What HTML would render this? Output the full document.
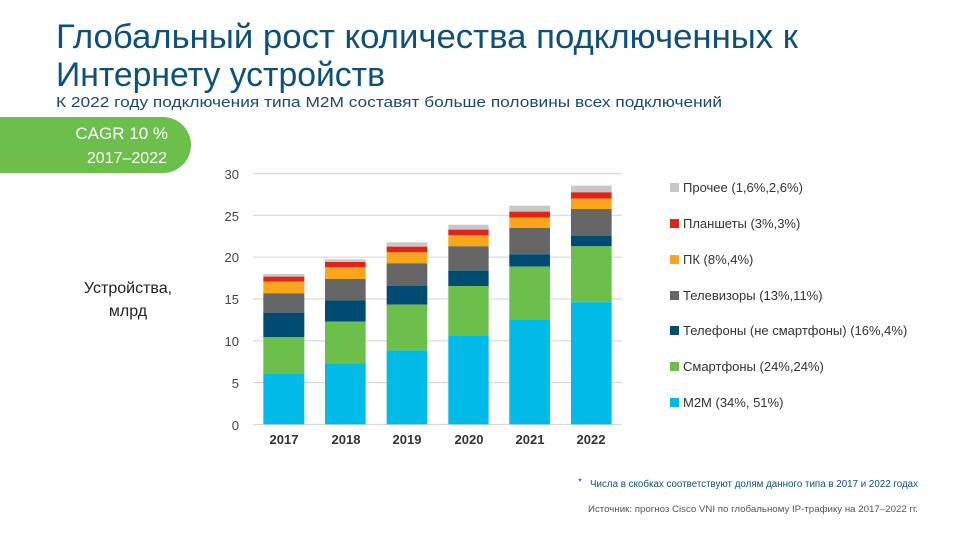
<!DOCTYPE html>
<html><head><meta charset="utf-8"><style>
html,body{margin:0;padding:0;background:#fff;}
svg{display:block;font-family:"Liberation Sans","DejaVu Sans",sans-serif;}
</style></head><body>
<svg width="966" height="543" viewBox="0 0 966 543" xmlns="http://www.w3.org/2000/svg">
<text x="56" y="48" font-size="34" fill="#0d5079" textLength="742" lengthAdjust="spacingAndGlyphs">Глобальный рост количества подключенных к</text>
<text x="56" y="86" font-size="34" fill="#0d5079" textLength="329" lengthAdjust="spacingAndGlyphs">Интернету устройств</text>
<text x="56" y="107" font-size="15" fill="#1d4a68" textLength="666" lengthAdjust="spacingAndGlyphs">К 2022 году подключения типа M2M составят больше половины всех подключений</text>
<path d="M0 117 H163 A28 28 0 0 1 163 173 H0 Z" fill="#6cbf4a"/>
<text x="168" y="139" font-size="17" fill="#fff" text-anchor="end">CAGR 10 %</text>
<text x="167" y="163" font-size="16" fill="#fff" text-anchor="end">2017–2022</text>
<text x="128" y="293" font-size="16" fill="#222" text-anchor="middle">Устройства,</text>
<text x="128" y="316" font-size="16" fill="#222" text-anchor="middle">млрд</text>
<g stroke="#d9d9d9" stroke-width="1.2">
<line x1="253" x2="622" y1="173.5" y2="173.5"/><line x1="253" x2="622" y1="215.3" y2="215.3"/>
<line x1="253" x2="622" y1="257.2" y2="257.2"/><line x1="253" x2="622" y1="299" y2="299"/>
<line x1="253" x2="622" y1="340.8" y2="340.8"/><line x1="253" x2="622" y1="382.6" y2="382.6"/>
<line x1="253" x2="622" y1="424.5" y2="424.5"/>
</g>
<g font-size="13" fill="#444" text-anchor="end">
<text x="239" y="179">30</text><text x="239" y="221">25</text><text x="239" y="262">20</text>
<text x="239" y="304">15</text><text x="239" y="346">10</text><text x="239" y="388">5</text><text x="239" y="430">0</text>
</g>
<g transform="translate(240,170) scale(0.3333)">
<g transform="translate(70,0)">
<rect y="312" width="123" height="8" fill="#c8c8c8"/><rect y="320" width="123" height="15" fill="#e2231a"/>
<rect y="335" width="123" height="35" fill="#f9a61a"/><rect y="370" width="123" height="58" fill="#666"/>
<rect y="428" width="123" height="74" fill="#004b72"/><rect y="502" width="123" height="108" fill="#6cbf4a"/>
<rect y="610" width="123" height="153" fill="#00bbe8"/></g>
<g transform="translate(255,0)">
<rect y="268" width="122" height="8" fill="#c8c8c8"/><rect y="276" width="122" height="16" fill="#e2231a"/>
<rect y="292" width="122" height="35" fill="#f9a61a"/><rect y="327" width="122" height="64" fill="#666"/>
<rect y="391" width="122" height="64" fill="#004b72"/><rect y="455" width="122" height="125" fill="#6cbf4a"/>
<rect y="580" width="122" height="183" fill="#00bbe8"/></g>
<g transform="translate(440,0)">
<rect y="217" width="122" height="13" fill="#c8c8c8"/><rect y="230" width="122" height="17" fill="#e2231a"/>
<rect y="247" width="122" height="33" fill="#f9a61a"/><rect y="280" width="122" height="68" fill="#666"/>
<rect y="348" width="122" height="56" fill="#004b72"/><rect y="404" width="122" height="138" fill="#6cbf4a"/>
<rect y="542" width="122" height="221" fill="#00bbe8"/></g>
<g transform="translate(625,0)">
<rect y="164" width="121" height="15" fill="#c8c8c8"/><rect y="179" width="121" height="17" fill="#e2231a"/>
<rect y="196" width="121" height="33" fill="#f9a61a"/><rect y="229" width="121" height="73" fill="#666"/>
<rect y="302" width="121" height="46" fill="#004b72"/><rect y="348" width="121" height="150" fill="#6cbf4a"/>
<rect y="498" width="121" height="265" fill="#00bbe8"/></g>
<g transform="translate(808,0)">
<rect y="107" width="122" height="18" fill="#c8c8c8"/><rect y="125" width="122" height="18" fill="#e2231a"/>
<rect y="143" width="122" height="31" fill="#f9a61a"/><rect y="174" width="122" height="79" fill="#666"/>
<rect y="253" width="122" height="37" fill="#004b72"/><rect y="290" width="122" height="160" fill="#6cbf4a"/>
<rect y="450" width="122" height="313" fill="#00bbe8"/></g>
<g transform="translate(993,0)">
<rect y="47" width="122" height="20" fill="#c8c8c8"/><rect y="67" width="122" height="19" fill="#e2231a"/>
<rect y="86" width="122" height="31" fill="#f9a61a"/><rect y="117" width="122" height="81" fill="#666"/>
<rect y="198" width="122" height="31" fill="#004b72"/><rect y="229" width="122" height="168" fill="#6cbf4a"/>
<rect y="397" width="122" height="366" fill="#00bbe8"/></g>
</g>
<g font-size="13" font-weight="bold" fill="#333" text-anchor="middle">
<text x="284" y="444">2017</text><text x="346" y="444">2018</text><text x="407" y="444">2019</text>
<text x="469" y="444">2020</text><text x="530" y="444">2021</text><text x="591" y="444">2022</text>
</g>
<g font-size="13" fill="#333">
<rect x="670" y="183" width="9" height="9" fill="#c8c8c8"/><text x="683" y="192">Прочее (1,6%,2,6%)</text>
<rect x="670" y="219" width="9" height="9" fill="#e2231a"/><text x="683" y="228">Планшеты (3%,3%)</text>
<rect x="670" y="255" width="9" height="9" fill="#f9a61a"/><text x="683" y="264">ПК (8%,4%)</text>
<rect x="670" y="291" width="9" height="9" fill="#666"/><text x="683" y="300">Телевизоры (13%,11%)</text>
<rect x="670" y="326" width="9" height="9" fill="#004b72"/><text x="683" y="335">Телефоны (не смартфоны) (16%,4%)</text>
<rect x="670" y="362" width="9" height="9" fill="#6cbf4a"/><text x="683" y="371">Смартфоны (24%,24%)</text>
<rect x="670" y="398" width="9" height="9" fill="#00bbe8"/><text x="683" y="407">M2M (34%, 51%)</text>
</g>
<text x="578" y="485" font-size="10" fill="#0d5079">*</text>
<text x="590" y="487" font-size="10" fill="#0d5079" textLength="328" lengthAdjust="spacingAndGlyphs">Числа в скобках соответствуют долям данного типа в 2017 и 2022 годах</text>
<text x="588" y="512" font-size="9.5" fill="#555" textLength="330" lengthAdjust="spacingAndGlyphs">Источник: прогноз Cisco VNI по глобальному IP-трафику на 2017–2022 гг.</text>
</svg>
</body></html>
